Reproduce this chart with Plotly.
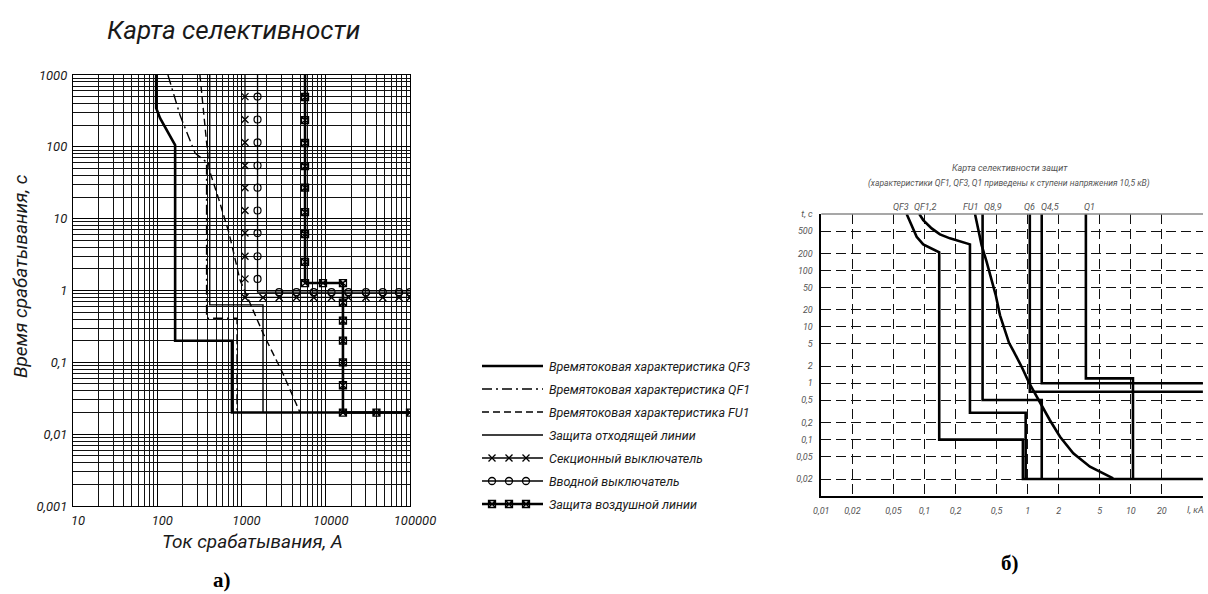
import plotly.graph_objects as go

W, H = 1208, 594

# ---------------- Chart a): current, A  /  time, s ----------------
qf3_i = [97, 97, 108, 134, 163, 163, 770, 770, 100000]
qf3_t = [1000, 347, 251, 161, 106, 0.2, 0.2, 0.02, 0.02]

qf1_i = [134, 186, 281, 385, 385, 885, 885]
qf1_t = [1000, 277, 82, 61, 0.41, 0.41, 0.02]

fu1_i = [321, 400, 415, 541, 711, 960, 1262, 1800, 3100, 4950]
fu1_t = [1000, 61, 47.5, 18.2, 6.3, 1.4, 0.67, 0.255, 0.07, 0.02]

feeder_i = [420, 420, 1800, 1800]
feeder_t = [1000, 0.63, 0.63, 0.02]

# sectional breaker (x markers)
sec_i = [1100, 1100, 100000]
sec_t = [1000, 0.8, 0.8]
# incoming breaker (o markers)
inc_i = [1550, 1550, 100000]
inc_t = [1000, 0.95, 0.95]
# marker rows shared by both breakers
col_marks_t = [500, 240, 115, 55, 27, 13, 6.3, 3, 1.45]
sec_row_i = [1100, 1800, 2800, 4500, 7200, 11700, 18600, 30000, 47500, 74000, 100000]
inc_row_i = [2800, 4500, 7200, 11700, 18600, 30000, 47500, 74000, 100000]

# overhead line protection (boxed markers)
ohl_i = [5680, 5680, 16000, 16000, 100000]
ohl_t = [1000, 1.27, 1.27, 0.02, 0.02]
ohl_col1_t = [494, 236, 113, 54, 27, 12.3, 6.1, 2.5]
ohl_row1_i = [5680, 9270, 16000]
ohl_col2_t = [0.68, 0.38, 0.2, 0.1, 0.048]
ohl_row2_i = [16000, 40000, 100000]

# ---------------- Chart б): current, kA  /  time, s ----------------
b_qf3_i = [0.0672, 0.0751, 0.084, 0.0973, 0.1174, 0.139, 0.139, 0.90, 0.90, 50]
b_qf3_t = [1000, 638, 396, 290, 247, 210, 0.1, 0.1, 0.02, 0.02]

b_qf12_i = [0.0891, 0.0973, 0.1174, 0.1413, 0.1766, 0.2208, 0.276, 0.276, 0.957, 0.957]
b_qf12_t = [1000, 783, 557, 436, 371, 323, 290, 0.30, 0.30, 0.02]

b_fu1_i = [0.309, 0.332, 0.358, 0.40, 0.445, 0.49, 0.54, 0.60, 0.66, 0.73, 0.875, 1.04,
           1.32, 1.64, 2.06, 2.77, 4.02, 5.02, 6.75]
b_fu1_t = [1000, 557, 282, 143, 72, 37, 16, 8.5, 5.2, 3.7, 1.96, 0.995,
           0.441, 0.223, 0.1126, 0.0571, 0.0331, 0.027, 0.0206]

b_q89_i = [0.366, 0.366, 1.37, 1.37]
b_q89_t = [1000, 0.504, 0.504, 0.02]

b_q6_i = [1.05, 1.05, 50]
b_q6_t = [1000, 0.706, 0.706]

b_q45_i = [1.37, 1.37, 50]
b_q45_t = [1000, 1.0, 1.0]

b_q1_i = [3.67, 3.67, 10.5, 10.5]
b_q1_t = [1000, 1.22, 1.22, 0.02]

b_xticks = [0.01, 0.02, 0.05, 0.1, 0.2, 0.5, 1, 2, 5, 10, 20, 50]
b_xtext = ["0,01", "0,02", "0,05", "0,1", "0,2", "0,5", "1", "2", "5", "10", "20", ""]
b_xunit = "I, кА"
b_yticks = [0.02, 0.05, 0.1, 0.2, 0.5, 1, 2, 5, 10, 20, 50, 100, 200, 500, 1000]
b_ytext = ["0,02", "0,05", "0,1", "0,2", "0,5", "1", "2", "5", "10", "20", "50", "100",
           "200", "500", "t, c"]

curve_labels = ["QF3", "QF1,2", "FU1", "Q8,9", "Q6", "Q4,5", "Q1"]
curve_label_px = [901, 925, 970, 993, 1029, 1050, 1089]

legend_names = [
    "Времятоковая характеристика QF3",
    "Времятоковая характеристика QF1",
    "Времятоковая характеристика FU1",
    "Защита отходящей линии",
    "Секционный выключатель",
    "Вводной выключатель",
    "Защита воздушной линии",
]

# ---------------- styling ----------------
FONT = "Roboto, Liberation Sans, DejaVu Sans, sans-serif"
INK = "#1a1a1a"
GREY = "#555"
DASHDOT = "10px,4px,2px,4px"
DASH = "7px,4px"


def px_x(p):
    return p / W


def px_y(p):
    return 1 - p / H


fig = go.Figure()


def line(x, y, xa, ya, width, dash="solid", color="black"):
    fig.add_trace(go.Scatter(x=x, y=y, xaxis=xa, yaxis=ya, mode="lines",
                             line=dict(color=color, width=width, dash=dash),
                             showlegend=False, hoverinfo="skip"))


def marks(x, y, xa, ya, symbol, size=7, lw=1.2):
    fig.add_trace(go.Scatter(x=x, y=y, xaxis=xa, yaxis=ya, mode="markers",
                             marker=dict(symbol=symbol, size=size, color="black",
                                         line=dict(color="black", width=lw)),
                             showlegend=False, hoverinfo="skip"))


# chart a)
line(qf3_i, qf3_t, "x", "y", 2.6)
line(qf1_i, qf1_t, "x", "y", 1.4, DASHDOT)
line(fu1_i, fu1_t, "x", "y", 1.4, DASH)
line(feeder_i, feeder_t, "x", "y", 1.4)
line(sec_i, sec_t, "x", "y", 1.3)
line(inc_i, inc_t, "x", "y", 1.3)
line(ohl_i, ohl_t, "x", "y", 2.6)

marks([sec_i[0]] * len(col_marks_t) + sec_row_i,
      col_marks_t + [sec_t[-1]] * len(sec_row_i), "x", "y", "x-thin-open", 7, 1.3)
marks([inc_i[0]] * len(col_marks_t) + inc_row_i,
      col_marks_t + [inc_t[-1]] * len(inc_row_i), "x", "y", "circle-open", 7, 1.2)
marks([ohl_i[0]] * len(ohl_col1_t) + ohl_row1_i + [ohl_i[2]] * len(ohl_col2_t) + ohl_row2_i,
      ohl_col1_t + [ohl_t[1]] * len(ohl_row1_i) + ohl_col2_t + [ohl_t[-1]] * len(ohl_row2_i),
      "x", "y", "square-x-open", 7, 1.3)

# chart б)
for xs, ys in [(b_qf3_i, b_qf3_t), (b_qf12_i, b_qf12_t), (b_fu1_i, b_fu1_t),
               (b_q89_i, b_q89_t), (b_q6_i, b_q6_t), (b_q45_i, b_q45_t),
               (b_q1_i, b_q1_t)]:
    line(xs, ys, "x2", "y2", 2.6)

# legend samples (drawn in a helper axis measured in page pixels)
leg_rows = [366, 389, 412, 435, 458, 481, 504]
leg_x0, leg_x1 = 482, 543
leg_mx = [492, 509, 526]
styles = [(2.6, "solid", None), (1.4, DASHDOT, None), (1.4, DASH, None),
          (1.4, "solid", None), (1.3, "solid", "x-thin-open"),
          (1.3, "solid", "circle-open"), (2.6, "solid", "square-x-open")]
for row, (wd, ds, sym) in zip(leg_rows, styles):
    line([leg_x0, leg_x1], [row, row], "x3", "y3", wd, ds)
    if sym:
        marks(leg_mx, [row] * 3, "x3", "y3", sym, 7, 1.3)

ann = []
for row, name in zip(leg_rows, legend_names):
    ann.append(dict(x=547, y=row, xref="x3", yref="y3", text=name,
                    xanchor="left", yanchor="middle",
                    font=dict(family=FONT, size=12.5, color=INK, style="italic")))

serif = "Liberation Serif, DejaVu Serif, serif"
ann += [
    dict(x=px_x(233), y=px_y(30), text="Карта селективности",
         font=dict(family=FONT, size=26, color=INK, style="italic")),
    dict(x=px_x(20), y=px_y(276), text="Время срабатывания, с", textangle=-90,
         font=dict(family=FONT, size=19, color=INK, style="italic")),
    dict(x=px_x(252), y=px_y(541), text="Ток срабатывания, А",
         font=dict(family=FONT, size=19, color=INK, style="italic")),
    dict(x=px_x(222), y=px_y(580), text="а)",
         font=dict(family=serif, size=21, color="black", weight="bold")),
    dict(x=px_x(1010), y=px_y(563), text="б)",
         font=dict(family=serif, size=21, color="black", weight="bold")),
    dict(x=px_x(1010), y=px_y(168), text="Карта селективности защит",
         font=dict(family=FONT, size=9, color=GREY, style="italic")),
    dict(x=px_x(1009), y=px_y(183),
         text="(характеристики QF1, QF3, Q1 приведены к ступени напряжения 10,5 кВ)",
         font=dict(family=FONT, size=8.5, color=GREY, style="italic")),
    dict(x=px_x(1206), y=px_y(510), text=b_xunit, xanchor="right",
         font=dict(family=FONT, size=9, color=GREY, style="italic")),
]
for lab, p in zip(curve_labels, curve_label_px):
    ann.append(dict(x=px_x(p), y=px_y(207), text=lab,
                    font=dict(family=FONT, size=9, color=GREY, style="italic")))
for a in ann:
    a.setdefault("xref", "paper")
    a.setdefault("yref", "paper")
    a.setdefault("xanchor", "center")
    a.setdefault("yanchor", "middle")
    a["showarrow"] = False

grid_a = dict(type="log", showgrid=True, gridcolor="#000", gridwidth=1.2,
              dtick=1, tickformat="~g", zeroline=False, automargin=False,
              ticks="outside", ticklen=2, tickcolor="rgba(0,0,0,0)",
              minor=dict(dtick="D1", showgrid=True, gridcolor="#111", gridwidth=1,
                         ticks=""),
              showline=True, mirror=True, linecolor="black", linewidth=1.2,
              tickfont=dict(family=FONT, size=13, color=INK, style="italic"))

grid_b = dict(type="log", showgrid=True, gridcolor="#111", gridwidth=1.4,
              griddash="10px,5px", tickmode="array", zeroline=False, automargin=False,
              ticks="outside", ticklen=5, tickcolor="rgba(0,0,0,0)",
              showline=True, mirror=False, linecolor="black", linewidth=1.6,
              tickfont=dict(family=FONT, size=9, color=GREY, style="italic"))

fig.update_layout(
    template="none",
    width=W, height=H,
    margin=dict(l=0, r=0, t=0, b=0, autoexpand=False),
    paper_bgcolor="white", plot_bgcolor="rgba(0,0,0,0)",
    separators=", ",
    showlegend=False,
    xaxis=dict(grid_a, domain=[px_x(73), px_x(410)], range=[1, 5], anchor="y",
               ticklabelshift=5),
    yaxis=dict(grid_a, domain=[px_y(506), px_y(75)], range=[-3, 3], anchor="x"),
    xaxis2=dict(grid_b, domain=[px_x(821.3), px_x(1203)], range=[-2, 1.7], anchor="y2",
                tickvals=b_xticks, ticktext=b_xtext),
    yaxis2=dict(grid_b, domain=[px_y(496), px_y(214)], range=[-2, 3.001], anchor="x2",
                tickvals=b_yticks, ticktext=b_ytext),
    xaxis3=dict(domain=[px_x(470), px_x(760)], range=[470, 760], visible=False,
                anchor="y3", automargin=False),
    yaxis3=dict(domain=[px_y(520), px_y(350)], range=[520, 350], visible=False,
                anchor="x3", automargin=False),
    annotations=ann,
    shapes=[dict(type="line", xref="x2 domain", yref="y2 domain", x0=0, x1=1, y0=1, y1=1,
                 line=dict(color="#8a8a8a", width=1.5))],
)

fig.write_html("out.html")
